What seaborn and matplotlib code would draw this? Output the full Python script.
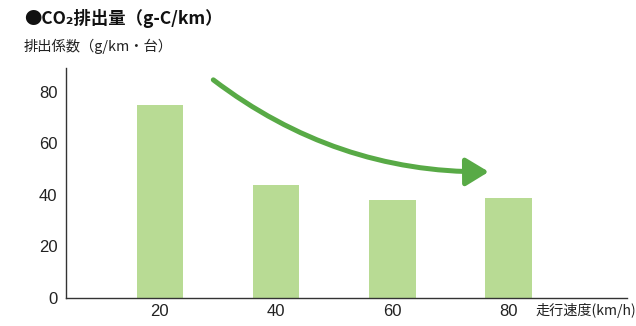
import matplotlib
matplotlib.use("Agg")
import matplotlib.pyplot as plt
import seaborn as sns
import pandas as pd

speeds = ["20", "40", "60", "80"]
emissions = [75, 44, 38, 39]
title_text = "●CO₂排出量（g-C/km）"
ylabel_text = "排出係数（g/km・台）"
xlabel_text = "走行速度(km/h)"
yticks = [0, 20, 40, 60, 80]

bar_color = "#b8db94"
arrow_color = "#58aa46"

sns.set_theme(style="white")
plt.rcParams["font.family"] = ["Liberation Sans", "Noto Sans CJK JP", "DejaVu Sans"]

df = pd.DataFrame({"speed": speeds, "emission": emissions})

fig = plt.figure(figsize=(6.36, 3.26), dpi=100)
ax = fig.add_axes([0.1033, 0.0859, 0.986 - 0.1033, 0.7914 - 0.0859])
sns.barplot(data=df, x="speed", y="emission", color=bar_color, width=0.4,
            saturation=1, ax=ax, edgecolor="none")

ax.set_xlim(-0.81, 4.02)
ax.set_ylim(0, 89.3)
ax.set_yticks(yticks)
ax.set_yticklabels([str(v) for v in yticks])
ax.set_xlabel("")
ax.set_ylabel("")
for s in ["top", "right"]:
    ax.spines[s].set_visible(False)
for s in ["left", "bottom"]:
    ax.spines[s].set_color("#333333")
    ax.spines[s].set_linewidth(1.0)
ax.tick_params(axis="both", length=0, labelsize=12, colors="#222222")
ax.tick_params(axis="y", pad=6)
ax.tick_params(axis="x", pad=4)
for lbl in ax.get_yticklabels():
    lbl.set_va("center_baseline")

# Trend arrow
ax.annotate("", xy=(2.83, 49.0), xytext=(0.46, 84.7), xycoords="data",
            arrowprops=dict(arrowstyle="-|>,head_length=14,head_width=8.5",
                            connectionstyle="arc3,rad=0.17",
                            color=arrow_color, lw=3.6,
                            shrinkA=0, shrinkB=0, mutation_scale=1))

fig.text(24 / 636, 1 - 18 / 326, title_text, fontsize=12.5, fontweight="bold",
         va="center", ha="left", family=["Noto Sans CJK JP", "DejaVu Sans"], color="#111111")
fig.text(24 / 636, 1 - 46 / 326, ylabel_text, fontsize=10.3,
         va="center", ha="left", family=["Noto Sans CJK JP", "DejaVu Sans"], color="#222222")
fig.text(636 / 636, 1 - 311 / 326, xlabel_text, fontsize=10.2,
         va="center", ha="right", family=["Noto Sans CJK JP", "DejaVu Sans"], color="#222222")

fig.savefig("out.png", dpi=100)
